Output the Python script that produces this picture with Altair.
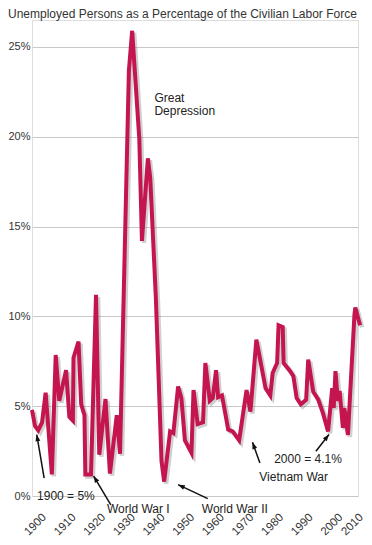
import math
import altair as alt
import pandas as pd

# ---- data ----
years = [1900.0, 1901.0, 1902.1, 1903.4, 1904.6, 1906.7, 1908.0, 1909.2, 1911.5, 1912.6,
         1913.8, 1914.0, 1915.7, 1916.6, 1917.7, 1918.0, 1919.9, 1921.6, 1922.7, 1924.8,
         1926.3, 1928.6, 1929.7, 1932.7, 1933.8, 1936.2, 1937.1, 1939.1, 1939.9, 1941.8,
         1943.7, 1944.6, 1946.6, 1947.7, 1949.3, 1950.4, 1951.6, 1953.8, 1954.5, 1955.9,
         1957.7, 1958.5, 1960.0, 1961.0, 1962.1, 1962.8, 1964.1, 1966.2, 1967.7, 1969.9,
         1972.4, 1973.7, 1975.7, 1978.8, 1980.4, 1981.2, 1982.7, 1983.2, 1984.6, 1984.9,
         1987.1, 1988.2, 1989.3, 1990.7, 1992.5, 1993.2, 1994.9, 1996.6, 1998.2, 1999.9,
         2001.3, 2001.8, 2002.4, 2003.2, 2003.8, 2004.9, 2005.4, 2006.6, 2008.8, 2009.1,
         2010.7]
rates = [4.8, 3.9, 3.65, 4.1, 5.75, 1.2, 7.85, 5.3, 7.0, 4.4,
         4.2, 7.7, 8.6, 5.1, 4.5, 1.2, 1.2, 11.2, 2.3, 5.4,
         1.25, 4.5, 2.35, 23.7, 25.9, 19.9, 14.2, 18.8, 17.7, 11.0,
         1.95, 0.8, 3.6, 3.5, 6.1, 5.45, 3.1, 2.4, 5.9, 4.0,
         4.1, 7.4, 5.3, 5.45, 7.0, 5.5, 5.6, 3.7, 3.6, 3.1,
         5.9, 4.7, 8.7, 6.0, 5.6, 6.85, 7.4, 9.5, 9.4, 7.4,
         6.95, 6.67, 5.45, 5.1, 5.35, 7.6, 5.8, 5.36, 4.6, 3.6,
         6.0, 4.9, 6.95, 5.3, 5.85, 3.8, 4.9, 3.4, 10.1, 10.5,
         9.5]

y_ticks = [0, 5, 10, 15, 20, 25]
x_ticks = [1900, 1910, 1920, 1930, 1940, 1950, 1960, 1970, 1980, 1990, 2000, 2010]

note_text = ["Great", "Depression", "1900 = 5%", "World War I", "World War II",
             "Vietnam War", "2000 = 4.1%"]
note_year = [1941.3, 1941.3, 1901.7, 1925.3, 1957.3, 1976.7, 1981.7]
note_rate = [21.95, 21.2, -0.2, -0.95, -0.95, 0.82, 1.84]

arrow_year0 = [1904.1, 1926.6, 1959.3, 1976.9, 1995.8]
arrow_rate0 = [1.0, -0.5, -0.15, 1.84, 2.49]
arrow_year1 = [1901.6, 1920.8, 1949.3, 1974.4, 2000.2]
arrow_rate1 = [3.42, 1.11, 0.63, 2.99, 3.42]

title = "Unemployed Persons as a Percentage of the Civilian Labor Force"

# ---- layout ----
W, H = 326, 476
X_DOM = [1900, 2010]
Y_DOM = [0, 26.5]
FONT = "Liberation Sans"
RED = "#c4154f"

line_df = pd.DataFrame({"year": years, "rate": rates})
note_df = pd.DataFrame({"text": note_text, "year": note_year, "rate": note_rate})

px_year = W / (X_DOM[1] - X_DOM[0])
px_rate = H / (Y_DOM[1] - Y_DOM[0])
angles = []
for a0, r0, a1, r1 in zip(arrow_year0, arrow_rate0, arrow_year1, arrow_rate1):
    dx = (a1 - a0) * px_year
    dy = -(r1 - r0) * px_rate
    angles.append(math.degrees(math.atan2(dx, -dy)) % 360)
arrow_df = pd.DataFrame({"y0": arrow_year0, "r0": arrow_rate0,
                         "y1": arrow_year1, "r1": arrow_rate1, "ang": angles})

xs = alt.Scale(domain=X_DOM, nice=False, zero=False)
ys = alt.Scale(domain=Y_DOM, nice=False, zero=False)


def x_axis():
    return alt.Axis(values=x_ticks, format="d", labelAngle=-45, grid=False, domain=False,
                    ticks=False, labelPadding=15,
                    labelOffset=alt.condition("datum.value == 2010", alt.value(-1), alt.value(8)),
                    labelOverlap=False, labelFlush=False, labelBound=False, title=None,
                    labelFont=FONT, labelFontSize=11.5, labelColor="#333")


def y_axis():
    return alt.Axis(values=y_ticks, labelExpr="datum.value + '%'", grid=True,
                    gridColor="#c8c8c8", gridWidth=1, domain=False, ticks=False,
                    labelPadding=2, title=None, labelFont=FONT, labelFontSize=11,
                    labelColor="#333", labelOverlap=False)


def X(field):
    return alt.X(field, scale=xs, axis=x_axis())


def Y(field):
    return alt.Y(field, scale=ys, axis=y_axis())


base = alt.Chart(line_df)

shadow = base.mark_line(color="#777", opacity=0.35, strokeWidth=4.5, xOffset=2, yOffset=2).encode(
    x=X("year:Q"), y=Y("rate:Q"),
)
line = base.mark_line(color=RED, strokeWidth=4).encode(
    x=X("year:Q"), y=Y("rate:Q"),
)

notes = alt.Chart(note_df).mark_text(align="left", baseline="alphabetic", font=FONT,
                                     fontSize=12, color="#222").encode(
    x=X("year:Q"), y=Y("rate:Q"), text="text:N",
)

rules = alt.Chart(arrow_df).mark_rule(color="#111", strokeWidth=1.5).encode(
    x=X("y0:Q"), y=Y("r0:Q"), x2="y1:Q", y2="r1:Q",
)
heads = alt.Chart(arrow_df).mark_point(shape="M0,0L0.55,1.5L-0.55,1.5Z", filled=True,
                                       color="#111", opacity=1, size=80).encode(
    x=X("y1:Q"), y=Y("r1:Q"),
    angle=alt.Angle("ang:Q", scale=None),
)

chart = alt.layer(shadow, line, rules, heads, notes).properties(
    width=W, height=H,
    title=alt.Title(title, anchor="start", frame="group", dx=-24, offset=-1, font=FONT,
                    fontSize=12, fontWeight="normal", color="#333"),
    autosize=alt.AutoSizeParams(type="none"),
    padding={"left": 24, "top": 12, "right": 6, "bottom": 41},
).configure_view(stroke=None).configure_axis(labelOverlap=False).configure(background="white")

chart.save("out.html", embed_options={"renderer": "svg", "actions": False})
